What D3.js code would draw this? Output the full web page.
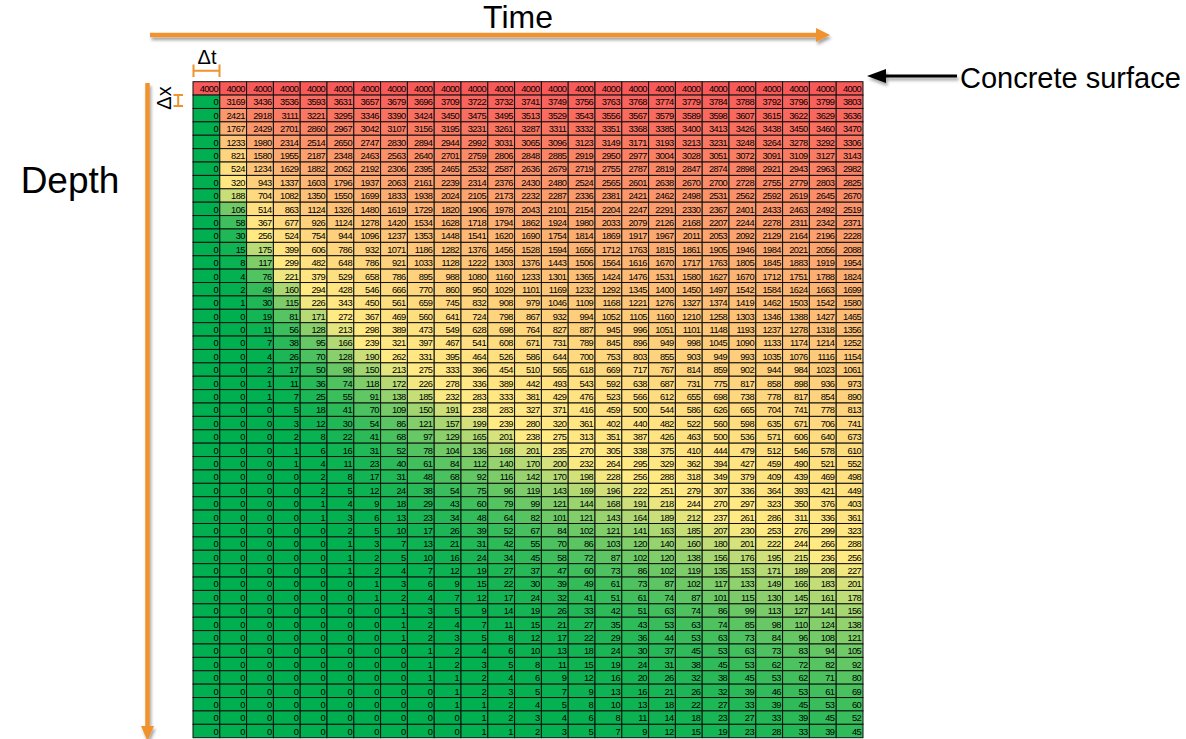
<!DOCTYPE html>
<html>
<head>
<meta charset="utf-8">
<script src="https://cdn.jsdelivr.net/npm/d3@7"></script>
<style>
  body { margin: 0; background: #fff; }
  svg { display: block; font-family: Arial, "Liberation Sans", sans-serif; }
</style>
</head>
<body>
<svg id="chart" width="1186" height="739"></svg>
<script>
// Chloride concentration per depth layer (rows) and time step (columns).
const timeSteps = ["t0","t1","t2","t3","t4","t5","t6","t7","t8","t9","t10","t11","t12",
  "t13","t14","t15","t16","t17","t18","t19","t20","t21","t22","t23","t24"];

const surfaceRow = [4000,4000,4000,4000,4000,4000,4000,4000,4000,4000,4000,4000,4000,
  4000,4000,4000,4000,4000,4000,4000,4000,4000,4000,4000,4000];

const depthRows = [
  [0,3169,3436,3536,3593,3631,3657,3679,3696,3709,3722,3732,3741,3749,3756,3763,3768,3774,3779,3784,3788,3792,3796,3799,3803],
  [0,2421,2918,3111,3221,3295,3346,3390,3424,3450,3475,3495,3513,3529,3543,3556,3567,3579,3589,3598,3607,3615,3622,3629,3636],
  [0,1767,2429,2701,2860,2967,3042,3107,3156,3195,3231,3261,3287,3311,3332,3351,3368,3385,3400,3413,3426,3438,3450,3460,3470],
  [0,1233,1980,2314,2514,2650,2747,2830,2894,2944,2992,3031,3065,3096,3123,3149,3171,3193,3213,3231,3248,3264,3278,3292,3306],
  [0,821,1580,1955,2187,2348,2463,2563,2640,2701,2759,2806,2848,2885,2919,2950,2977,3004,3028,3051,3072,3091,3109,3127,3143],
  [0,524,1234,1629,1882,2062,2192,2306,2395,2465,2532,2587,2636,2679,2719,2755,2787,2819,2847,2874,2898,2921,2943,2963,2982],
  [0,320,943,1337,1603,1796,1937,2063,2161,2239,2314,2376,2430,2480,2524,2565,2601,2638,2670,2700,2728,2755,2779,2803,2825],
  [0,188,704,1082,1350,1550,1699,1833,1938,2024,2105,2173,2232,2287,2336,2381,2421,2462,2498,2531,2562,2592,2619,2645,2670],
  [0,106,514,863,1124,1326,1480,1619,1729,1820,1906,1978,2043,2101,2154,2204,2247,2291,2330,2367,2401,2433,2463,2492,2519],
  [0,58,367,677,926,1124,1278,1420,1534,1628,1718,1794,1862,1924,1980,2033,2079,2126,2168,2207,2244,2278,2311,2342,2371],
  [0,30,256,524,754,944,1096,1237,1353,1448,1541,1620,1690,1754,1814,1869,1917,1967,2011,2053,2092,2129,2164,2196,2228],
  [0,15,175,399,606,786,932,1071,1186,1282,1376,1456,1528,1594,1656,1712,1763,1815,1861,1905,1946,1984,2021,2056,2088],
  [0,8,117,299,482,648,786,921,1033,1128,1222,1303,1376,1443,1506,1564,1616,1670,1717,1763,1805,1845,1883,1919,1954],
  [0,4,76,221,379,529,658,786,895,988,1080,1160,1233,1301,1365,1424,1476,1531,1580,1627,1670,1712,1751,1788,1824],
  [0,2,49,160,294,428,546,666,770,860,950,1029,1101,1169,1232,1292,1345,1400,1450,1497,1542,1584,1624,1663,1699],
  [0,1,30,115,226,343,450,561,659,745,832,908,979,1046,1109,1168,1221,1276,1327,1374,1419,1462,1503,1542,1580],
  [0,0,19,81,171,272,367,469,560,641,724,798,867,932,994,1052,1105,1160,1210,1258,1303,1346,1388,1427,1465],
  [0,0,11,56,128,213,298,389,473,549,628,698,764,827,887,945,996,1051,1101,1148,1193,1237,1278,1318,1356],
  [0,0,7,38,95,166,239,321,397,467,541,608,671,731,789,845,896,949,998,1045,1090,1133,1174,1214,1252],
  [0,0,4,26,70,128,190,262,331,395,464,526,586,644,700,753,803,855,903,949,993,1035,1076,1116,1154],
  [0,0,2,17,50,98,150,213,275,333,396,454,510,565,618,669,717,767,814,859,902,944,984,1023,1061],
  [0,0,1,11,36,74,118,172,226,278,336,389,442,493,543,592,638,687,731,775,817,858,898,936,973],
  [0,0,1,7,25,55,91,138,185,232,283,333,381,429,476,523,566,612,655,698,738,778,817,854,890],
  [0,0,0,5,18,41,70,109,150,191,238,283,327,371,416,459,500,544,586,626,665,704,741,778,813],
  [0,0,0,3,12,30,54,86,121,157,199,239,280,320,361,402,440,482,522,560,598,635,671,706,741],
  [0,0,0,2,8,22,41,68,97,129,165,201,238,275,313,351,387,426,463,500,536,571,606,640,673],
  [0,0,0,1,6,16,31,52,78,104,136,168,201,235,270,305,338,375,410,444,479,512,546,578,610],
  [0,0,0,1,4,11,23,40,61,84,112,140,170,200,232,264,295,329,362,394,427,459,490,521,552],
  [0,0,0,0,2,8,17,31,48,68,92,116,142,170,198,228,256,288,318,349,379,409,439,469,498],
  [0,0,0,0,2,5,12,24,38,54,75,96,119,143,169,196,222,251,279,307,336,364,393,421,449],
  [0,0,0,0,1,4,9,18,29,43,60,79,99,121,144,168,191,218,244,270,297,323,350,376,403],
  [0,0,0,0,1,3,6,13,23,34,48,64,82,101,121,143,164,189,212,237,261,286,311,336,361],
  [0,0,0,0,0,2,5,10,17,26,39,52,67,84,102,121,141,163,185,207,230,253,276,299,323],
  [0,0,0,0,0,1,3,7,13,21,31,42,55,70,86,103,120,140,160,180,201,222,244,266,288],
  [0,0,0,0,0,1,2,5,10,16,24,34,45,58,72,87,102,120,138,156,176,195,215,236,256],
  [0,0,0,0,0,1,2,4,7,12,19,27,37,47,60,73,86,102,119,135,153,171,189,208,227],
  [0,0,0,0,0,0,1,3,6,9,15,22,30,39,49,61,73,87,102,117,133,149,166,183,201],
  [0,0,0,0,0,0,1,2,4,7,12,17,24,32,41,51,61,74,87,101,115,130,145,161,178],
  [0,0,0,0,0,0,0,1,3,5,9,14,19,26,33,42,51,63,74,86,99,113,127,141,156],
  [0,0,0,0,0,0,0,1,2,4,7,11,15,21,27,35,43,53,63,74,85,98,110,124,138],
  [0,0,0,0,0,0,0,1,2,3,5,8,12,17,22,29,36,44,53,63,73,84,96,108,121],
  [0,0,0,0,0,0,0,0,1,2,4,6,10,13,18,24,30,37,45,53,63,73,83,94,105],
  [0,0,0,0,0,0,0,0,1,2,3,5,8,11,15,19,24,31,38,45,53,62,72,82,92],
  [0,0,0,0,0,0,0,0,1,1,2,4,6,9,12,16,20,26,32,38,45,53,62,71,80],
  [0,0,0,0,0,0,0,0,0,1,2,3,5,7,9,13,16,21,26,32,39,46,53,61,69],
  [0,0,0,0,0,0,0,0,0,1,1,2,4,5,8,10,13,18,22,27,33,39,45,53,60],
  [0,0,0,0,0,0,0,0,0,0,1,2,3,4,6,8,11,14,18,23,27,33,39,45,52],
  [0,0,0,0,0,0,0,0,0,0,1,1,2,3,5,7,9,12,15,19,23,28,33,39,45]
];

const axisLabels = { time: "Time", depth: "Depth", dt: "Δt", dx: "Δx", surface: "Concrete surface" };

const table = [surfaceRow, ...depthRows];
const cells = table.flatMap((row, r) => row.map((v, c) => ({ r, c, v })));

const svg = d3.select("#chart");
const orange = "#F0922E";

// Drop shadow used under the arrows
const defs = svg.append("defs");
const sh = defs.append("filter").attr("id", "shadow")
  .attr("x", "-20%").attr("y", "-50%").attr("width", "140%").attr("height", "200%");
sh.append("feDropShadow").attr("dx", 1.5).attr("dy", 3).attr("stdDeviation", 1.5)
  .attr("flood-color", "#000").attr("flood-opacity", 0.35);

// Cell grid
const x = d3.scaleBand().domain(d3.range(timeSteps.length)).range([193, 863]);
const y = d3.scaleBand().domain(d3.range(table.length)).range([81.7, 737.7]);

// Three-colour scale: green (low) → yellow (median) → red (high)
const allVals = cells.map(d => d.v).sort(d3.ascending);
const mid = d3.quantile(allVals, 0.5);
const color = d3.scaleLinear()
  .domain([d3.min(allVals), mid, d3.max(allVals)])
  .range(["#00B050", "#FFEB84", "#F85A5A"])
  .interpolate(d3.interpolateRgb);

const g = svg.append("g");
g.selectAll("rect.cell").data(cells).join("rect")
  .attr("class", "cell")
  .attr("x", d => x(d.c)).attr("y", d => y(d.r))
  .attr("width", x.bandwidth()).attr("height", y.bandwidth())
  .attr("fill", d => color(d.v))
  .attr("stroke", "#111").attr("stroke-width", 1);

g.selectAll("text.val").data(cells).join("text")
  .attr("class", "val")
  .attr("x", d => x(d.c) + x.bandwidth() - 1.8)
  .attr("y", d => y(d.r) + 10.4)
  .attr("text-anchor", "end")
  .attr("font-size", 9.3)
  .attr("letter-spacing", -0.6)
  .attr("fill", "#000")
  .text(d => d.v);

// Time arrow along the top
const ann = svg.append("g");
ann.append("g").attr("filter", "url(#shadow)").call(a => {
  a.append("line").attr("x1", 150).attr("y1", 35).attr("x2", 818).attr("y2", 35)
    .attr("stroke", orange).attr("stroke-width", 4.5);
  a.append("path").attr("d", "M816,28 L830,35 L816,42 Z").attr("fill", orange);
});
ann.append("text").attr("x", 518).attr("y", 28).attr("text-anchor", "middle")
  .attr("font-size", 32).text(axisLabels.time);

// Depth arrow down the left side
ann.append("g").attr("filter", "url(#shadow)").call(a => {
  a.append("line").attr("x1", 147.5).attr("y1", 83).attr("x2", 147.5).attr("y2", 728)
    .attr("stroke", orange).attr("stroke-width", 4.5);
  a.append("path").attr("d", "M141,726 L147.5,741 L154,726 Z").attr("fill", orange);
});
ann.append("text").attr("x", 70).attr("y", 193).attr("text-anchor", "middle")
  .attr("font-size", 37).text(axisLabels.depth);

// Δt marker: one column wide
ann.append("text").attr("x", 207).attr("y", 64).attr("text-anchor", "middle")
  .attr("font-size", 20).text(axisLabels.dt);
ann.append("path")
  .attr("d", "M193.5,64.5 V77 M193.5,70.8 H219.5 M219.5,64.5 V77")
  .attr("fill", "none").attr("stroke", orange).attr("stroke-width", 2);

// Δx marker: one row tall
ann.append("text").attr("transform", "translate(171,98) rotate(-90)")
  .attr("text-anchor", "middle").attr("font-size", 20).text(axisLabels.dx);
ann.append("path")
  .attr("d", "M173.5,95 H183 M178.2,95 V106 M173.5,106 H183")
  .attr("fill", "none").attr("stroke", orange).attr("stroke-width", 2);

// Surface pointer
ann.append("g").attr("filter", "url(#shadow)").call(a => {
  a.append("line").attr("x1", 884).attr("y1", 76).attr("x2", 957).attr("y2", 76)
    .attr("stroke", "#000").attr("stroke-width", 3);
  a.append("path").attr("d", "M867,76 L886,69 L886,83 Z").attr("fill", "#000");
});
ann.append("text").attr("x", 960).attr("y", 88).attr("font-size", 29)
  .text(axisLabels.surface);
</script>
</body>
</html>
